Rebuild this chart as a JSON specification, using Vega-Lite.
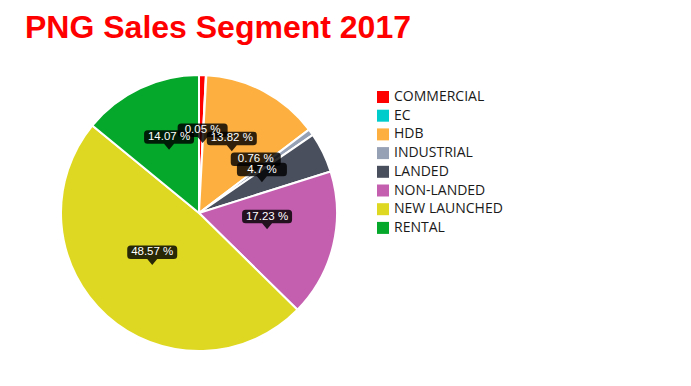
{
  "$schema": "https://vega.github.io/schema/vega-lite/v6.json",
  "autosize": "none",
  "width": 276,
  "height": 276,
  "padding": {"left": 61, "top": 75, "right": 354, "bottom": 35},
  "background": "white",
  "title": {
    "text": "PNG Sales Segment 2017",
    "anchor": "start",
    "frame": "group",
    "font": "Liberation Sans",
    "fontSize": 32,
    "fontWeight": "bold",
    "color": "#ff0000",
    "offset": 26,
    "dx": -36
  },
  "data": {
    "values": [
      {"segment": "COMMERCIAL", "value": 0.8, "order": 1},
      {"segment": "EC", "value": 0.05, "order": 2},
      {"segment": "HDB", "value": 13.82, "order": 3},
      {"segment": "INDUSTRIAL", "value": 0.76, "order": 4},
      {"segment": "LANDED", "value": 4.7, "order": 5},
      {"segment": "NON-LANDED", "value": 17.23, "order": 6},
      {"segment": "NEW LAUNCHED", "value": 48.57, "order": 7},
      {"segment": "RENTAL", "value": 14.07, "order": 8}
    ]
  },
  "layer": [
    {
      "mark": {"type": "arc", "outerRadius": 138, "stroke": "white", "strokeWidth": 2},
      "encoding": {
        "theta": {"field": "value", "type": "quantitative", "stack": true},
        "order": {"field": "order", "type": "quantitative"},
        "color": {
          "field": "segment",
          "type": "nominal",
          "scale": {
            "domain": ["COMMERCIAL", "EC", "HDB", "INDUSTRIAL", "LANDED", "NON-LANDED", "NEW LAUNCHED", "RENTAL"],
            "range": ["#fe0000", "#00cccc", "#fdb03f", "#97a1b5", "#4a4f5e", "#c45fb0", "#dfd822", "#05a82a"]
          },
          "legend": {
            "orient": "none",
            "legendX": 315,
            "legendY": 15,
            "title": null,
            "padding": 0,
            "symbolType": "square",
            "symbolSize": 144,
            "symbolStrokeWidth": 0,
            "symbolOpacity": 1,
            "labelFont": "Open Sans",
            "labelFontSize": 14,
            "labelColor": "#1a1a1a",
            "labelOffset": 4,
            "rowPadding": 4.7,
            "labelLimit": 300
          }
        }
      }
    },
    {
      "transform": [
        {"joinaggregate": [{"op": "sum", "field": "value", "as": "total"}]},
        {"window": [{"op": "sum", "field": "value", "as": "cum"}], "sort": [{"field": "order"}], "frame": [null, 0]},
        {"calculate": "2*PI*(datum.cum - datum.value/2)/datum.total", "as": "mid"},
        {"calculate": "70*sin(datum.mid)", "as": "lx"},
        {"calculate": "70*cos(datum.mid)", "as": "ly"},
        {"calculate": "datum.value + ' %'", "as": "label"},
        {"filter": "datum.segment != 'COMMERCIAL'"}
      ],
      "layer": [
        {
          "mark": {
            "type": "point",
            "shape": "M0,0 L-0.2,-0.24 H-0.86 Q-1,-0.24 -1,-0.38 V-0.64 Q-1,-0.78 -0.86,-0.78 H0.86 Q1,-0.78 1,-0.64 V-0.38 Q1,-0.24 0.86,-0.24 H0.2 Z",
            "size": 2500,
            "filled": true,
            "fill": "#000000",
            "fillOpacity": 0.82,
            "strokeWidth": 0
          },
          "encoding": {
            "x": {"field": "lx", "type": "quantitative", "scale": {"domain": [-138, 138]}, "axis": null},
            "y": {"field": "ly", "type": "quantitative", "scale": {"domain": [-138, 138]}, "axis": null}
          }
        },
        {
          "mark": {
            "type": "text",
            "dy": -12.8,
            "font": "Liberation Sans",
            "fontSize": 11.5,
            "color": "white"
          },
          "encoding": {
            "x": {"field": "lx", "type": "quantitative", "scale": {"domain": [-138, 138]}, "axis": null},
            "y": {"field": "ly", "type": "quantitative", "scale": {"domain": [-138, 138]}, "axis": null},
            "text": {"field": "label"}
          }
        }
      ]
    }
  ],
  "config": {"view": {"stroke": null}}
}
